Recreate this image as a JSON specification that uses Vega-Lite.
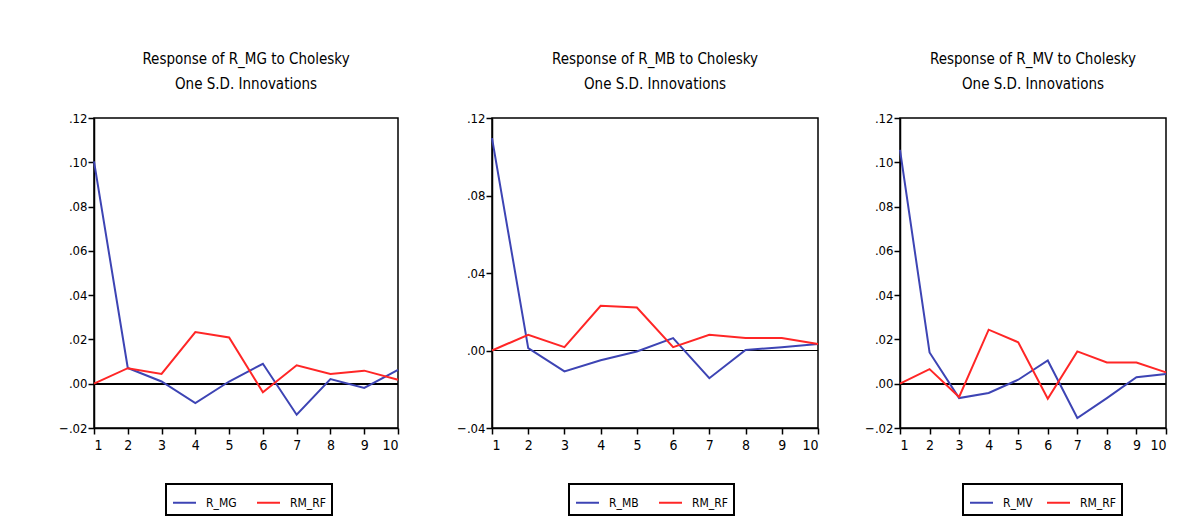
{
  "$schema": "https://vega.github.io/schema/vega-lite/v6.json",
  "background": "white",
  "padding": {"left": 57, "top": 51, "right": 5, "bottom": 5},
  "datasets": {
    "mg": [
      {"period": 1, "series": "R_MG", "value": 0.1004},
      {"period": 2, "series": "R_MG", "value": 0.0071},
      {"period": 3, "series": "R_MG", "value": 0.0010},
      {"period": 4, "series": "R_MG", "value": -0.0087},
      {"period": 5, "series": "R_MG", "value": 0.0010},
      {"period": 6, "series": "R_MG", "value": 0.0090},
      {"period": 7, "series": "R_MG", "value": -0.0140},
      {"period": 8, "series": "R_MG", "value": 0.0021},
      {"period": 9, "series": "R_MG", "value": -0.0019},
      {"period": 10, "series": "R_MG", "value": 0.0063},
      {"period": 1, "series": "RM_RF", "value": 0.0},
      {"period": 2, "series": "RM_RF", "value": 0.0070},
      {"period": 3, "series": "RM_RF", "value": 0.0044},
      {"period": 4, "series": "RM_RF", "value": 0.0233},
      {"period": 5, "series": "RM_RF", "value": 0.0209},
      {"period": 6, "series": "RM_RF", "value": -0.0039},
      {"period": 7, "series": "RM_RF", "value": 0.0083},
      {"period": 8, "series": "RM_RF", "value": 0.0044},
      {"period": 9, "series": "RM_RF", "value": 0.0059},
      {"period": 10, "series": "RM_RF", "value": 0.0018}
    ],
    "mb": [
      {"period": 1, "series": "R_MB", "value": 0.1096},
      {"period": 2, "series": "R_MB", "value": 0.0012},
      {"period": 3, "series": "R_MB", "value": -0.0108},
      {"period": 4, "series": "R_MB", "value": -0.0050},
      {"period": 5, "series": "R_MB", "value": -0.0005},
      {"period": 6, "series": "R_MB", "value": 0.0064},
      {"period": 7, "series": "R_MB", "value": -0.0143},
      {"period": 8, "series": "R_MB", "value": 0.0003},
      {"period": 9, "series": "R_MB", "value": 0.0017},
      {"period": 10, "series": "R_MB", "value": 0.0034},
      {"period": 1, "series": "RM_RF", "value": 0.0},
      {"period": 2, "series": "RM_RF", "value": 0.0081},
      {"period": 3, "series": "RM_RF", "value": 0.0017},
      {"period": 4, "series": "RM_RF", "value": 0.0231},
      {"period": 5, "series": "RM_RF", "value": 0.0222},
      {"period": 6, "series": "RM_RF", "value": 0.0017},
      {"period": 7, "series": "RM_RF", "value": 0.0081},
      {"period": 8, "series": "RM_RF", "value": 0.0064},
      {"period": 9, "series": "RM_RF", "value": 0.0064},
      {"period": 10, "series": "RM_RF", "value": 0.0034}
    ],
    "mv": [
      {"period": 1, "series": "R_MV", "value": 0.1056},
      {"period": 2, "series": "R_MV", "value": 0.0141},
      {"period": 3, "series": "R_MV", "value": -0.0065},
      {"period": 4, "series": "R_MV", "value": -0.0042},
      {"period": 5, "series": "R_MV", "value": 0.0018},
      {"period": 6, "series": "R_MV", "value": 0.0105},
      {"period": 7, "series": "R_MV", "value": -0.0155},
      {"period": 8, "series": "R_MV", "value": -0.0065},
      {"period": 9, "series": "R_MV", "value": 0.0029},
      {"period": 10, "series": "R_MV", "value": 0.0044},
      {"period": 1, "series": "RM_RF", "value": 0.0},
      {"period": 2, "series": "RM_RF", "value": 0.0066},
      {"period": 3, "series": "RM_RF", "value": -0.0060},
      {"period": 4, "series": "RM_RF", "value": 0.0244},
      {"period": 5, "series": "RM_RF", "value": 0.0187},
      {"period": 6, "series": "RM_RF", "value": -0.0068},
      {"period": 7, "series": "RM_RF", "value": 0.0146},
      {"period": 8, "series": "RM_RF", "value": 0.0096},
      {"period": 9, "series": "RM_RF", "value": 0.0096},
      {"period": 10, "series": "RM_RF", "value": 0.0051}
    ]
  },
  "spacing": 40,
  "resolve": {"scale": {"color": "independent", "x": "independent", "y": "independent"}, "legend": {"color": "independent"}},
  "hconcat": [
    {
      "width": 304,
      "height": 310,
      "title": {"text": ["Response of R_MG to Cholesky", "One S.D. Innovations"]},
      "data": {"name": "mg"},
      "layer": [
        {"mark": {"type": "rule", "color": "black", "strokeWidth": 1.2}, "encoding": {"y": {"datum": 0, "type": "quantitative"}}},
        {
          "mark": {"type": "line", "strokeWidth": 2},
          "encoding": {
            "x": {"field": "period", "type": "quantitative", "scale": {"domain": [1, 10], "nice": false, "zero": false}, "axis": {"values": [1, 2, 3, 4, 5, 6, 7, 8, 9, 10], "title": null}},
            "y": {"field": "value", "type": "quantitative", "scale": {"domain": [-0.02, 0.12], "nice": false, "zero": false}, "axis": {"values": [-0.02, 0, 0.02, 0.04, 0.06, 0.08, 0.1, 0.12], "title": null, "minExtent": 30}},
            "color": {"field": "series", "type": "nominal", "scale": {"domain": ["R_MG", "RM_RF"], "range": ["#3d44b4", "#ff2626"]}, "legend": {"orient": "none", "legendX": 72, "legendY": 366, "direction": "horizontal", "title": null}}
          }
        }
      ]
    },
    {
      "width": 326,
      "height": 310,
      "title": {"text": ["Response of R_MB to Cholesky", "One S.D. Innovations"]},
      "data": {"name": "mb"},
      "layer": [
        {"mark": {"type": "rule", "color": "black", "strokeWidth": 1}, "encoding": {"y": {"datum": 0, "type": "quantitative"}}},
        {
          "mark": {"type": "line", "strokeWidth": 2},
          "encoding": {
            "x": {"field": "period", "type": "quantitative", "scale": {"domain": [1, 10], "nice": false, "zero": false}, "axis": {"values": [1, 2, 3, 4, 5, 6, 7, 8, 9, 10], "title": null}},
            "y": {"field": "value", "type": "quantitative", "scale": {"domain": [-0.04, 0.12], "nice": false, "zero": false}, "axis": {"values": [-0.04, 0, 0.04, 0.08, 0.12], "title": null, "minExtent": 48}},
            "color": {"field": "series", "type": "nominal", "scale": {"domain": ["R_MB", "RM_RF"], "range": ["#3d44b4", "#ff2626"]}, "legend": {"orient": "none", "legendX": 77, "legendY": 366, "direction": "horizontal", "title": null}}
          }
        }
      ]
    },
    {
      "width": 266,
      "height": 310,
      "title": {"text": ["Response of R_MV to Cholesky", "One S.D. Innovations"]},
      "data": {"name": "mv"},
      "layer": [
        {"mark": {"type": "rule", "color": "black", "strokeWidth": 1.2}, "encoding": {"y": {"datum": 0, "type": "quantitative"}}},
        {
          "mark": {"type": "line", "strokeWidth": 2},
          "encoding": {
            "x": {"field": "period", "type": "quantitative", "scale": {"domain": [1, 10], "nice": false, "zero": false}, "axis": {"values": [1, 2, 3, 4, 5, 6, 7, 8, 9, 10], "title": null}},
            "y": {"field": "value", "type": "quantitative", "scale": {"domain": [-0.02, 0.12], "nice": false, "zero": false}, "axis": {"values": [-0.02, 0, 0.02, 0.04, 0.06, 0.08, 0.1, 0.12], "title": null, "minExtent": 30}},
            "color": {"field": "series", "type": "nominal", "scale": {"domain": ["R_MV", "RM_RF"], "range": ["#3d44b4", "#ff2626"]}, "legend": {"orient": "none", "legendX": 63, "legendY": 366, "direction": "horizontal", "title": null, "columnPadding": 10}}
          }
        }
      ]
    }
  ],
  "config": {
    "font": "Liberation Sans Narrow, DejaVu Sans Condensed, Roboto Condensed, Liberation Sans, sans-serif",
    "view": {"stroke": "black", "strokeWidth": 1.5},
    "title": {"fontSize": 15, "fontWeight": "normal", "color": "black", "anchor": "middle", "offset": 20, "lineHeight": 25, "font": "Liberation Sans Narrow, DejaVu Sans Condensed, Roboto Condensed, Liberation Sans, sans-serif"},
    "axis": {"grid": false, "domainColor": "black", "domainWidth": 1.5, "tickColor": "black", "tickWidth": 1.5, "tickSize": 6, "labelColor": "black", "labelFontSize": 13, "labelPadding": 1, "labelFont": "Liberation Sans Narrow, DejaVu Sans Condensed, Roboto Condensed, Liberation Sans, sans-serif"},
    "axisY": {"labelExpr": "replace(format(datum.value, '.2f'), '0.', '.')", "labelAlign": "right"},
    "axisX": {"labelFontSize": 14, "labelPadding": 4},
    "legend": {"strokeColor": "black", "strokeWidth": 2, "padding": 6, "symbolType": "stroke", "symbolSize": 529, "symbolStrokeWidth": 2, "labelFontSize": 12, "labelColor": "black", "columnPadding": 16, "symbolOffset": 0, "labelOffset": 9, "cornerRadius": 0, "labelFont": "Liberation Sans Narrow, DejaVu Sans Condensed, Roboto Condensed, Liberation Sans, sans-serif"}
  }
}
